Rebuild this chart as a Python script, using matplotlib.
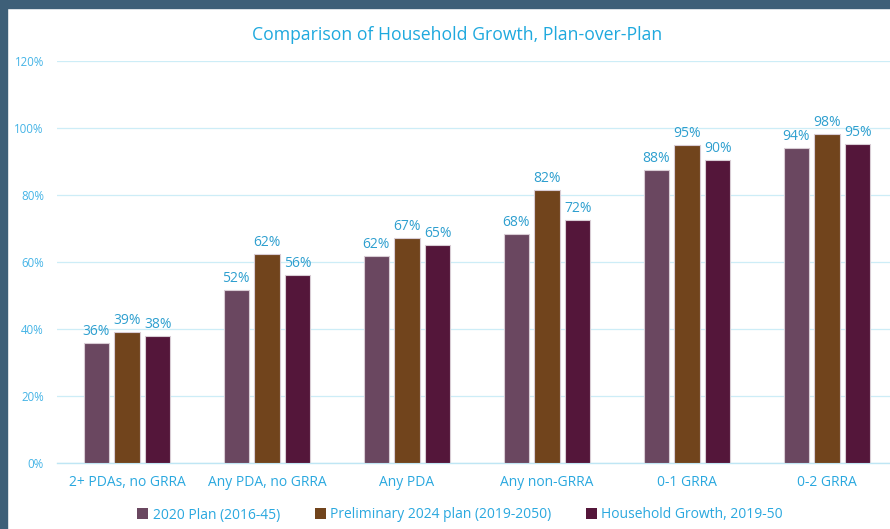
import matplotlib
matplotlib.use("Agg")
import matplotlib.pyplot as plt
import numpy as np
from matplotlib.patches import Rectangle, Patch

categories = ["2+ PDAs, no GRRA", "Any PDA, no GRRA", "Any PDA", "Any non-GRRA", "0-1 GRRA", "0-2 GRRA"]
series_names = ["2020 Plan (2016-45)", "Preliminary 2024 plan (2019-2050)", "Household Growth, 2019-50"]
plan2020 = [35.7, 51.6, 61.8, 68.4, 87.6, 94.0]
plan2024 = [39.1, 62.4, 67.2, 81.6, 94.9, 98.2]
household = [37.9, 56.1, 65.1, 72.4, 90.4, 95.2]
yticks = [0, 20, 40, 60, 80, 100, 120]
title = "Comparison of Household Growth, Plan-over-Plan"

colors = ["#6A4760", "#71441C", "#54163A"]
label_color = "#2E9FCF"
tick_color = "#45B4E6"
grid_color = "#CDEDF7"
font = ["Open Sans", "DejaVu Sans"]

W, H = 890, 529
fig = plt.figure(figsize=(W / 100, H / 100), dpi=100)
fig.patch.set_facecolor("white")

# frame border (left & top)
fig.patches.append(Rectangle((0, 0), 7 / W, 1, transform=fig.transFigure, color="#3E5F78", zorder=10))
fig.patches.append(Rectangle((0, 1 - 8 / H), 1, 8 / H, transform=fig.transFigure, color="#3E5F78", zorder=10))

ax_left, ax_right = 57, 897
ax_top, ax_bottom = 61, 463
ax = fig.add_axes([ax_left / W, 1 - ax_bottom / H, (ax_right - ax_left) / W, (ax_bottom - ax_top) / H])

x = np.arange(len(categories))
bw = 0.179
step = 0.221
for i, (vals, c, name) in enumerate(zip([plan2020, plan2024, household], colors, series_names)):
    pos = x + (i - 1) * step
    ax.bar(pos, vals, width=bw, color=c, edgecolor="#D8CCD4", linewidth=0.8, zorder=3, label=name)
    for p, v in zip(pos, vals):
        ax.text(p, v + 1.2, f"{round(v)}%", ha="center", va="bottom", color=label_color,
                fontsize=10, family=font, zorder=4)

ax.set_xlim(-0.5, len(categories) - 0.5)
ax.set_ylim(0, 120)
ax.set_yticks(yticks)
ax.set_yticklabels([f"{t}%" for t in yticks], family=font, fontsize=8.3, color=tick_color)
ax.set_xticks(x)
ax.set_xticklabels(categories, family=font, fontsize=10, color="#2AA8DF")
ax.tick_params(axis="both", length=0)
ax.tick_params(axis="y", pad=9.4)
ax.tick_params(axis="x", pad=9)
ax.grid(axis="y", color=grid_color, linewidth=0.9, zorder=0)
for s in ["top", "right", "left"]:
    ax.spines[s].set_visible(False)
ax.spines["bottom"].set_color("#BFE6F4")
ax.spines["bottom"].set_linewidth(1.0)

fig.text(457 / W, 1 - 35 / H, title, ha="center", va="center", color="#1FA9DE", fontsize=12.7, family=font)

handles = [Patch(facecolor=c, edgecolor="none") for c in colors]
leg = fig.legend(handles, series_names, loc="center", bbox_to_anchor=(460 / W, 1 - 515 / H), ncol=3,
                 frameon=False, handlelength=0.8, handleheight=0.8, handletextpad=0.3, columnspacing=2.5,
                 prop={"family": font, "size": 10})
for t in leg.get_texts():
    t.set_color("#2AA8DF")

fig.savefig("out.png", dpi=100, facecolor="white")
